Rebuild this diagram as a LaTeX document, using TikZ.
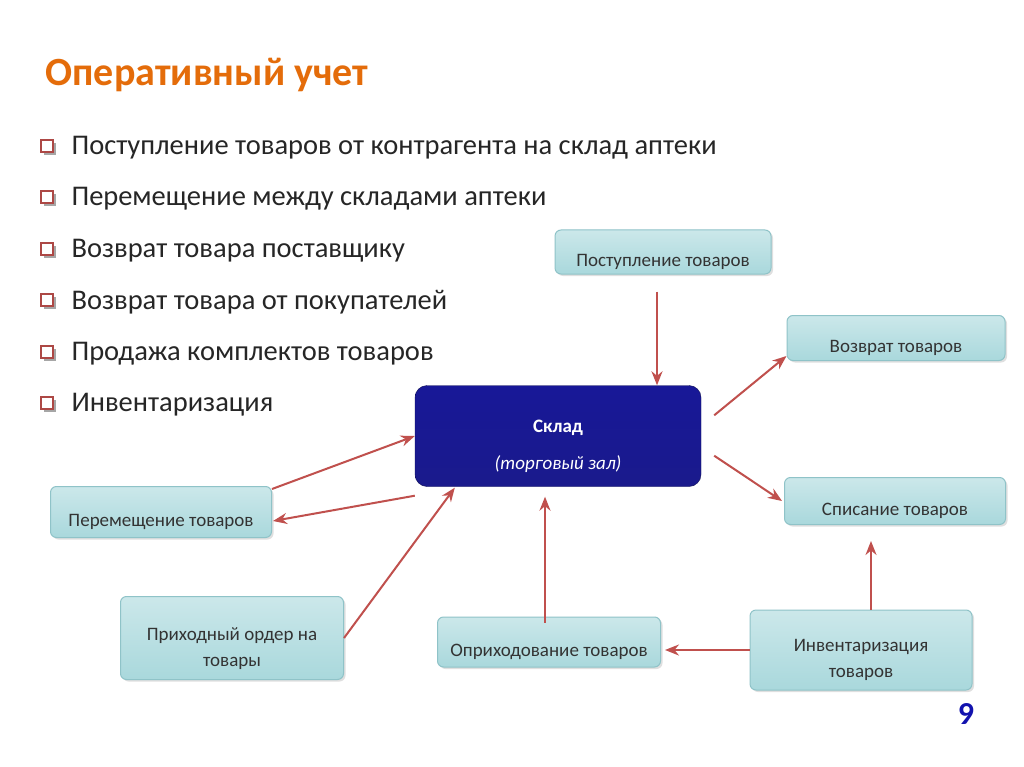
\documentclass[tikz,border=0pt]{standalone}
\usepackage{fontspec}
\setmainfont{Carlito}
\usetikzlibrary{arrows.meta,shadows}
\definecolor{boxfill}{HTML}{A9D8DC}
\definecolor{boxedge}{HTML}{8FC3C8}
\definecolor{arr}{HTML}{C0504D}
\definecolor{title}{HTML}{E46C0A}
\definecolor{navy}{HTML}{1A1A8C}
\newcommand\lowtext[2]{\raisebox{-#1}[\height][\depth]{\begin{tabular}{@{}c@{}}#2\end{tabular}}}
\tikzset{
 tboxbase/.style={draw=boxedge,line width=1pt,rounded corners=6pt,top color=boxfill!60,bottom color=boxfill,
   font=\fontsize{19}{23}\selectfont,text=black!80,drop shadow={opacity=0.25,shadow xshift=2pt,shadow yshift=-2pt}},
 tbox/.style={tboxbase,align=center,text height=29pt,text depth=0pt},
 arrw/.style={draw=arr,line width=2pt,-{Stealth[length=14pt,width=11pt]}},
 bul/.style={font=\fontsize{28.5}{32}\selectfont,text=black!85,anchor=west}
}
\begin{document}
\begin{tikzpicture}[x=1pt,y=-1pt]
\useasboundingbox[fill=white] (0,0) rectangle (1024,767);
\node[anchor=west,font=\bfseries\fontsize{40}{44}\selectfont,text=title] (t) at (42,75) {Оперативный учет};
\foreach \y/\s [count=\i] in {148/Поступление товаров от контрагента на склад аптеки,199/Перемещение между складами аптеки,251/Возврат товара поставщику,302/Возврат товара от покупателей,354/Продажа комплектов товаров,405/Инвентаризация}{
 \fill[black!35] (44,\y-5) rectangle (56,\y+7);
 \draw[draw=arr!90!black,line width=1.5pt,fill=white] (41,\y-8) rectangle (53,\y+4);
 \node[bul] (b\i) at (68,\y) {\s};
}
\node[tbox,minimum width=216pt,minimum height=44pt] (pt) at (663,252) {Поступление товаров};
\node[tbox,minimum width=218pt,minimum height=45pt] (vt) at (896,338) {Возврат товаров};
\node[draw=navy!60!black,rounded corners=12pt,top color=navy!90!blue,bottom color=navy,minimum width=286pt,minimum height=101pt,text=white,font=\fontsize{19}{23}\selectfont] (sk) at (558,436) {\lowtext{10pt}{\textbf{Склад}\\[14pt]\textit{(торговый зал)}}};
\node[tbox,minimum width=221pt,minimum height=47pt] (st) at (895,501) {Списание товаров};
\node[tbox,minimum width=221pt,minimum height=51pt] (pm) at (161,512) {Перемещение товаров};
\node[tboxbase,minimum width=223pt,minimum height=83pt] (po) at (232,638) {\lowtext{11pt}{Приходный ордер на\\[3pt]товары}};
\node[tbox,minimum width=223pt,minimum height=50pt] (op) at (549,642) {Оприходование товаров};
\node[tboxbase,minimum width=222pt,minimum height=80pt] (in) at (861,650) {\lowtext{10pt}{Инвентаризация\\[3pt]товаров}};
\draw[arrw] (pt.south -| 657,0) ++(0,17) -- ([xshift=99pt]sk.north);
\draw[arrw] ([xshift=13pt,yshift=-30pt]sk.north east) -- ([yshift=5pt]vt.south west);
\draw[arrw] ([xshift=13pt,yshift=31pt]sk.south east) -- ([xshift=-2pt,yshift=0pt]st.west);
\draw[arrw] ([yshift=-3pt]pm.north east) -- ([yshift=0pt]sk.west);
\draw[arrw] ([yshift=-9pt]sk.south west) -- ([xshift=1pt,yshift=-9pt]pm.east);
\draw[arrw] (po.east) -- ([xshift=40pt,yshift=-1pt]sk.south west);
\draw[arrw] ([xshift=-4pt,yshift=-6pt]op.north) -- ([xshift=-13pt,yshift=-10pt]sk.south);
\draw[arrw] (in.west) -- ([xshift=4pt]op.east |- in.west);
\draw[arrw] ([xshift=10pt]in.north) -- ([xshift=-24pt,yshift=-16pt]st.south);
\node[font=\bfseries\fontsize{32}{36}\selectfont,text=navy!70!blue] (n9) at (966,714) {9};
\end{tikzpicture}
\end{document}
